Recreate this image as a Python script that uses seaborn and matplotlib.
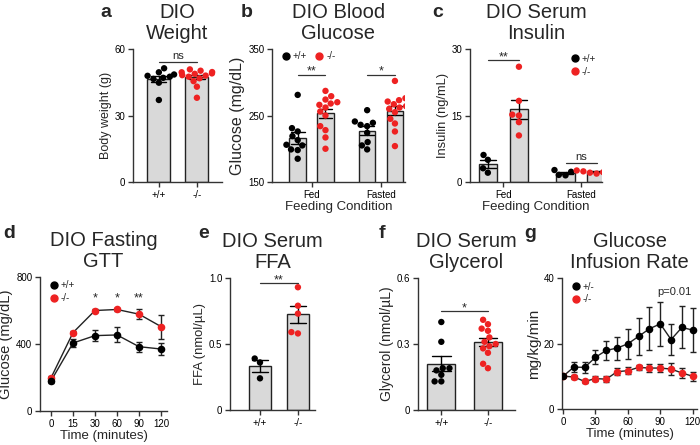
import numpy as np
import pandas as pd
import matplotlib
matplotlib.use("Agg")
import matplotlib.pyplot as plt
from matplotlib.lines import Line2D
import seaborn as sns

RED = "#ee2222"
GRAY = "#d9d9d9"
EDGE = "#222222"
genos = ["+/+", "-/-"]
conds = ["Fed", "Fasted"]

# a - body weight (g)
weight_wt = [47.5, 49.5, 48.5, 51.3, 47.9, 47.0, 46.5, 44.8, 37.0]
weight_ko = [50.8, 49.5, 48.8, 50.2, 49.0, 48.2, 47.5, 46.8, 45.5, 43.0, 38.0, 49.6, 48.0]

# b - blood glucose (mg/dL)
glu_fed_wt = [281, 231, 226, 219, 213, 206, 205, 199, 185, 198]
glu_fed_ko = [287, 279, 274, 270, 266, 262, 256, 250, 234, 228, 217, 200, 268]
glu_fast_wt = [258, 241, 239, 236, 234, 224, 210, 205, 199]
glu_fast_ko = [302, 276, 273, 271, 267, 264, 260, 255, 245, 238, 226, 204, 262]

# c - serum insulin (ng/mL)
ins_fed_wt = [5.0, 6.1, 3.1, 2.1]
ins_fed_ko = [26.0, 18.3, 15.0, 15.2, 13.5, 10.5]
ins_fast_wt = [2.7, 2.3, 1.6, 1.5]
ins_fast_ko = [2.4, 2.5, 2.1, 1.9, 2.3, 2.6, 2.2]

# d - fasting GTT
gtt_times = ["0", "15", "30", "60", "90", "120"]
gtt_wt = [180, 406, 450, 454, 384, 370]
gtt_wt_sem = [12, 22, 35, 45, 30, 35]
gtt_ko = [198, 468, 600, 606, 578, 504]
gtt_ko_sem = [10, 10, 10, 10, 30, 72]
gtt_stars = ["", "", "*", "*", "**", ""]

# e - serum FFA (nmol/uL)
ffa_wt = [0.39, 0.36, 0.24]
ffa_ko = [0.93, 0.79, 0.73, 0.59, 0.58]

# f - serum glycerol (nmol/uL)
gly_wt = [0.40, 0.31, 0.19, 0.19, 0.18, 0.16, 0.13, 0.13]
gly_ko = [0.41, 0.39, 0.37, 0.36, 0.33, 0.31, 0.30, 0.29, 0.28, 0.26, 0.21, 0.19]

# g - glucose infusion rate
gir_times = [0, 10, 20, 30, 40, 50, 60, 70, 80, 90, 100, 110, 120]
gir_het = [10.0, 12.8, 12.7, 15.8, 17.9, 18.6, 19.9, 22.2, 24.5, 26.0, 21.2, 24.9, 24.1]
gir_het_sem = [0.0, 1.6, 1.8, 2.2, 2.8, 3.5, 4.6, 5.6, 6.5, 6.8, 4.8, 6.4, 6.7]
gir_ko = [10.0, 9.8, 8.4, 9.3, 9.1, 11.4, 11.7, 12.7, 12.5, 12.5, 12.2, 11.0, 10.0]
gir_ko_sem = [0.0, 0.6, 0.5, 0.9, 0.9, 1.0, 1.1, 0.8, 1.3, 1.3, 1.9, 1.6, 1.4]

sns.set_style("ticks")
plt.rcParams["font.family"] = ["Liberation Sans", "DejaVu Sans"]
plt.rcParams["axes.linewidth"] = 1.0
plt.rcParams["axes.edgecolor"] = "#333333"
plt.rcParams["xtick.color"] = "#333333"
plt.rcParams["ytick.color"] = "#333333"
plt.rcParams["xtick.labelcolor"] = "black"
plt.rcParams["ytick.labelcolor"] = "black"

fig = plt.figure(figsize=(7, 4.45), dpi=100)
W, H = 700, 445


def px_axes(x0, x1, y0, y1):
    return fig.add_axes([x0 / W, 1 - y1 / H, (x1 - x0) / W, (y1 - y0) / H])


def style(ax, title, letter, lx, ly, ylabel, ysize, xlabel=None):
    sns.despine(ax=ax)
    ax.tick_params(axis="both", length=3.5, width=1.0, labelsize=7, pad=2)
    ax.set_title(title, fontsize=14.5, pad=7, linespacing=1.12)
    ax.set_ylabel(ylabel, fontsize=ysize, labelpad=2)
    ax.set_xlabel(xlabel if xlabel else "", fontsize=9.5, labelpad=1)
    fig.text(lx / W, 1 - ly / H, letter, fontsize=14, fontweight="bold", va="baseline")


def bracket(ax, x0, x1, y, text, size=9, lift=0):
    ax.plot([x0, x1], [y, y], color="#333333", lw=0.9)
    ax.annotate(text, ((x0 + x1) / 2, y), xytext=(0, lift), textcoords="offset points",
                ha="center", va="baseline", fontsize=size)


def simple_bars(ax, wt, ko):
    df = pd.DataFrame({"geno": ["+/+"] * len(wt) + ["-/-"] * len(ko), "val": wt + ko})
    sns.barplot(df, x="geno", y="val", order=genos, color=GRAY, edgecolor=EDGE, linewidth=1,
                errorbar="se", capsize=0.4, err_kws={"color": "k", "linewidth": 1}, width=0.6, ax=ax)
    sns.swarmplot(df, x="geno", y="val", hue="geno", order=genos, hue_order=genos,
                  palette=["black", RED], size=4.6, legend=False, warn_thresh=1, ax=ax, zorder=3)
    ax.tick_params(axis="x", labelsize=9.5)


def grouped_bars(ax, groups):
    rows = []
    for (cond, geno), vals in groups.items():
        for v in vals:
            rows.append({"cond": cond, "geno": geno, "val": v})
    df = pd.DataFrame(rows)
    sns.barplot(df, x="cond", y="val", hue="geno", order=conds, hue_order=genos,
                palette=[GRAY, GRAY], edgecolor=EDGE, linewidth=1, errorbar="se", capsize=0.4,
                gap=0.4, err_kws={"color": "k", "linewidth": 1}, legend=False, ax=ax)
    sns.swarmplot(df, x="cond", y="val", hue="geno", order=conds, hue_order=genos,
                  palette=["black", RED], dodge=True, size=4.6, legend=False, warn_thresh=1,
                  ax=ax, zorder=3)


def dot_handles(labels):
    return [Line2D([], [], marker="o", ls="", color=c, markersize=5, label=l)
            for c, l in zip(["black", RED], labels)]


# ---- a
ax = px_axes(133, 222, 49, 182)
simple_bars(ax, weight_wt, weight_ko)
ax.set_ylim(0, 60)
ax.set_yticks([0, 30, 60])
ax.set_xlim(-0.68, 1.66)
bracket(ax, 0, 1, 54.3, "ns", size=8, lift=2)
style(ax, "DIO\nWeight", "a", 100, 17, "Body weight (g)", 9)

# ---- b
ax = px_axes(272, 405, 49, 182)
grouped_bars(ax, {("Fed", "+/+"): glu_fed_wt, ("Fed", "-/-"): glu_fed_ko,
                  ("Fasted", "+/+"): glu_fast_wt, ("Fasted", "-/-"): glu_fast_ko})
ax.set_ylim(150, 350)
ax.set_yticks([150, 250, 350])
ax.set_xlim(-0.57, 1.345)
bracket(ax, -0.2, 0.2, 311, "**")
bracket(ax, 0.8, 1.2, 311, "*")
ax.legend(handles=dot_handles(genos), loc="upper left", bbox_to_anchor=(0.0, 1.05), ncol=2,
          frameon=False, fontsize=7, handlelength=1, handletextpad=0.2, columnspacing=0.8)
style(ax, "DIO Blood\nGlucose", "b", 241, 17, "Glucose (mg/dL)", 11.5, "Feeding Condition")

# ---- c
ax = px_axes(470, 602, 49, 182)
grouped_bars(ax, {("Fed", "+/+"): ins_fed_wt, ("Fed", "-/-"): ins_fed_ko,
                  ("Fasted", "+/+"): ins_fast_wt, ("Fasted", "-/-"): ins_fast_ko})
ax.set_ylim(0, 30)
ax.set_yticks([0, 15, 30])
ax.set_xlim(-0.43, 1.27)
bracket(ax, -0.2, 0.2, 27.5, "**")
bracket(ax, 0.8, 1.2, 4.3, "ns", size=8, lift=2)
ax.legend(handles=dot_handles(genos), loc="upper right", bbox_to_anchor=(1.02, 1.03),
          frameon=False, fontsize=7, handlelength=1, handletextpad=0.2, labelspacing=0.3)
style(ax, "DIO Serum\nInsulin", "c", 432, 17, "Insulin (ng/mL)", 9.3, "Feeding Condition")

# ---- d
ax = px_axes(40, 167, 277, 411)
pos = np.arange(len(gtt_times))
for vals, sem, col in [(gtt_ko, gtt_ko_sem, RED), (gtt_wt, gtt_wt_sem, "black")]:
    ax.errorbar(pos, vals, yerr=sem, fmt="none", ecolor="#222222", elinewidth=1, capsize=2.5, zorder=2)
    sns.lineplot(x=pos, y=vals, color="#222222", lw=1, ax=ax, zorder=2)
    sns.scatterplot(x=pos, y=vals, color=col, s=30, edgecolor=col, linewidth=0, ax=ax, zorder=3)
for p, s in zip(pos, gtt_stars):
    if s:
        ax.text(p, 655, s, ha="center", va="baseline", fontsize=9)
ax.set_xticks(pos)
ax.set_xticklabels(gtt_times)
ax.set_xlim(-0.5, 5.27)
ax.set_ylim(0, 800)
ax.set_yticks([0, 400, 800])
ax.legend(handles=dot_handles(genos), loc="upper left", bbox_to_anchor=(0.0, 1.04),
          frameon=False, fontsize=7, handlelength=1, handletextpad=0.2, labelspacing=0.3)
style(ax, "DIO Fasting\nGTT", "d", 3, 238, "Glucose (mg/dL)", 10.6, "Time (minutes)")

# ---- e
ax = px_axes(230, 315, 278, 410)
simple_bars(ax, ffa_wt, ffa_ko)
ax.set_ylim(0, 1.0)
ax.set_yticks([0, 0.5, 1.0])
ax.set_yticklabels(["0", "0.5", "1.0"])
ax.set_xlim(-0.79, 1.45)
bracket(ax, 0, 1, 0.96, "**")
style(ax, "DIO Serum\nFFA", "e", 198, 238, "FFA (nmol/µL)", 9.4)

# ---- f
ax = px_axes(418, 515, 278, 410)
simple_bars(ax, gly_wt, gly_ko)
ax.set_ylim(0, 0.6)
ax.set_yticks([0, 0.3, 0.6])
ax.set_yticklabels(["0", "0.3", "0.6"])
ax.set_xlim(-0.5, 1.58)
bracket(ax, 0, 1, 0.449, "*")
style(ax, "DIO Serum\nGlycerol", "f", 379, 238, "Glycerol (nmol/µL)", 10)

# ---- g
ax = px_axes(562, 697, 278, 409)
for vals, sem, col in [(gir_ko, gir_ko_sem, RED), (gir_het, gir_het_sem, "black")]:
    ax.errorbar(gir_times, vals, yerr=sem, fmt="none", ecolor="#222222", elinewidth=1, capsize=2.5, zorder=2)
    sns.lineplot(x=gir_times, y=vals, color="#222222", lw=1, ax=ax, zorder=2)
    sns.scatterplot(x=gir_times, y=vals, color=col, s=30, edgecolor=col, linewidth=0, ax=ax, zorder=3)
ax.text(103, 35.7, "p=0.01", ha="center", va="center", fontsize=8)
ax.set_xticks([0, 30, 60, 90, 120])
ax.set_xlim(-1, 124)
ax.set_ylim(0, 40)
ax.set_yticks([0, 20, 40])
ax.legend(handles=dot_handles(["+/-", "-/-"]), loc="upper left", bbox_to_anchor=(0.0, 1.04),
          frameon=False, fontsize=7, handlelength=1, handletextpad=0.2, labelspacing=0.3)
style(ax, "Glucose\nInfusion Rate", "g", 524, 238, "mg/kg/min", 11, "Time (minutes)")

fig.savefig("out.png", dpi=100)
